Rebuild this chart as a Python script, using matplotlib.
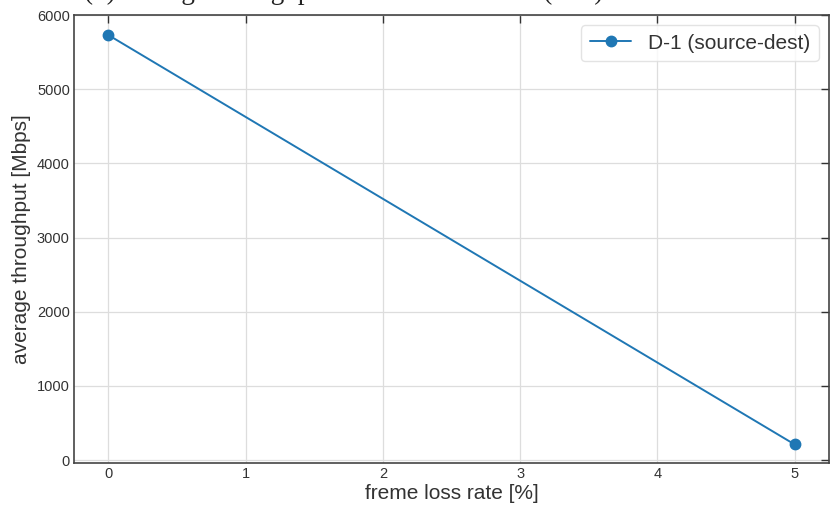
import matplotlib.pyplot as plt
import seaborn as sns

# datos
loss_rate = [0, 5]            # freme loss rate [%]
throughput = [5730, 210]      # average throughput [Mbps]
series_label = 'D-1 (source-dest)'
x_ticks = [0, 1, 2, 3, 4, 5]
y_ticks = [0, 1000, 2000, 3000, 4000, 5000, 6000]

sns.set_theme(style='whitegrid')
plt.rcParams['font.family'] = ['Liberation Sans', 'DejaVu Sans']
plt.rcParams['xtick.direction'] = 'in'
plt.rcParams['ytick.direction'] = 'in'

fig = plt.figure(figsize=(8.31, 5.08), dpi=100)
ax = fig.add_axes([74 / 831, 1 - 463 / 508, (829 - 74) / 831, (463 - 15) / 508])

ax.plot(loss_rate, throughput, marker='o', markersize=7.5, linewidth=1.4,
        color='#1f77b4', label=series_label)

ax.set_xlim(-0.25, 5.25)
ax.set_ylim(-40, 6000)
ax.set_xticks(x_ticks)
ax.set_yticks(y_ticks)
ax.tick_params(axis='both', which='both', top=True, right=True, length=6,
               width=1, color='#333333', labelsize=10.5, labelcolor='#333333',
               pad=3)
for s in ax.spines.values():
    s.set_color('#444444')
    s.set_linewidth(1.2)
ax.grid(True, color='#dddddd', linewidth=0.9)

ax.set_xlabel('freme loss rate [%]', fontsize=15, color='#333333', labelpad=2)
ax.set_ylabel('average throughput [Mbps]', fontsize=15, color='#333333', labelpad=4)

leg = ax.legend(loc='upper right', fontsize=15, frameon=True, borderpad=0.4,
                handlelength=2.0, fancybox=True)
leg.get_frame().set_edgecolor('#dddddd')
for t in leg.get_texts():
    t.set_color('#333333')

# título recortado en la parte superior (solo se ven los trazos descendentes)
fig.text(344 / 831, 1 + 1 / 508,
         '(b) average throughput vs. freme loss rate (D-1)',
         fontsize=19.5, family='Liberation Serif', color='#222222',
         ha='center', va='baseline')

fig.savefig('out.png', dpi=100)
